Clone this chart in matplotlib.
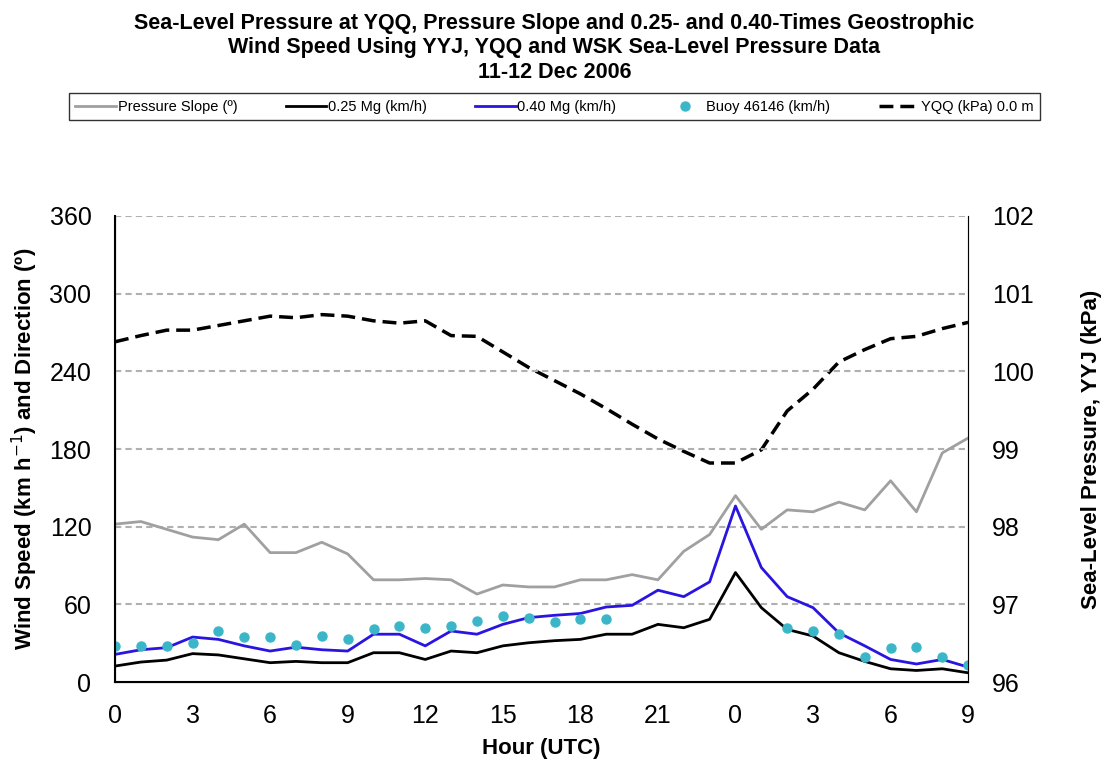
import matplotlib.pyplot as plt
import numpy as np

# Datos (hora UTC 0..23 del dia 11, 0..9 del dia 12)
horas = list(range(34))
etiquetas_x = ['0', '3', '6', '9', '12', '15', '18', '21', '0', '3', '6', '9']

pendiente = [122, 124, 118, 112, 110, 122, 100, 100, 108, 99, 79, 79, 80, 79, 68, 75, 73.5,
             73.5, 79, 79, 83, 79, 101, 114, 144, 118, 133, 131.5, 139, 133, 155.5, 131.5, 177, 188.5]
mg025 = [12.4, 15.5, 17, 22, 21, 18, 15, 16, 15, 15, 22.7, 22.7, 17.5, 24, 22.7, 28, 30.4,
         32, 33, 37, 37, 44.6, 42, 48.5, 84.6, 57.5, 40.7, 35.6, 22.7, 16, 10.3, 9, 10.3, 7.2]
mg040 = [21.4, 25, 26.6, 34.8, 33, 28, 24, 27, 25, 24, 37, 37, 28, 39.5, 37, 44.6, 49.8,
         51.6, 53, 58, 59.3, 71, 66, 77.4, 136, 88.5, 66, 57.5, 38, 28, 17.5, 14, 17.5, 11.6]
boya = [28, 28, 28, 30.4, 39.5, 34.8, 34.8, 29, 35.6, 33, 40.7, 43.3, 42, 43.3, 47.2, 51, 49.8,
        46.7, 48.5, 48.5, None, None, None, None, None, None, 42, 39.5, 37, 19.3, 26, 27, 19.3, 13]
presion_yqq = [100.38, 100.46, 100.53, 100.53, 100.59, 100.65, 100.71, 100.69, 100.73, 100.71,
               100.65, 100.62, 100.65, 100.46, 100.45, 100.25, 100.05, 99.88, 99.71, 99.52,
               99.32, 99.13, 98.97, 98.82, 98.82, 98.99, 99.49, 99.77, 100.12, 100.28,
               100.42, 100.45, 100.55, 100.63]

plt.rcParams['font.family'] = ['Liberation Sans', 'DejaVu Sans']

fig = plt.figure(figsize=(11.09, 7.63), dpi=100)
ax = fig.add_axes([0.1037, 0.106, 0.7693, 0.611])
ax2 = ax.twinx()

# la serie de presion va detras de las de viento
ax.set_zorder(ax2.get_zorder() + 1)
ax.patch.set_visible(False)

for v in range(60, 361, 60):
    ax.axhline(v, color='#b0b0b0', lw=1.5, ls=(0, (3, 2)), zorder=0)

l1, = ax.plot(horas, pendiente, color='#a0a0a0', lw=2, label='Pressure Slope (º)')
l2, = ax.plot(horas, mg025, color='black', lw=2, label='0.25 Mg (km/h)')
l3, = ax.plot(horas, mg040, color='#2a14e0', lw=2, label='0.40 Mg (km/h)')
bx = [h for h, b in zip(horas, boya) if b is not None]
by = [b for b in boya if b is not None]
l4, = ax.plot(bx, by, ls='none', marker='o', ms=6.5, color='#3bb6c9', label='Buoy 46146 (km/h)')
l5, = ax2.plot(horas, presion_yqq, color='black', lw=2.5, ls=(0, (4, 2)), label='YQQ (kPa) 0.0 m')

ax.set_xlim(0, 33)
ax.set_ylim(0, 360)
ax2.set_ylim(96, 102)
ax.set_yticks(range(0, 361, 60))
ax2.set_yticks(range(96, 103))
ax.set_xticks(range(0, 34, 3))
ax.set_xticklabels(etiquetas_x)

ax.tick_params(axis='y', length=0, labelsize=18, pad=17)
ax.tick_params(axis='x', length=0, labelsize=18, pad=16)
ax2.tick_params(axis='y', length=0, labelsize=18, pad=17)

ax.spines['top'].set_visible(False)
ax2.spines['top'].set_visible(False)
ax2.spines['right'].set_color('#808080')
ax.spines['left'].set_linewidth(1.5)
ax.spines['bottom'].set_linewidth(1.5)

ax.set_xlabel('Hour (UTC)', fontsize=16, fontweight='bold', labelpad=7)
ax.set_ylabel('Wind Speed (km h$^{-1}$) and Direction (º)', fontsize=16, fontweight='bold', labelpad=7)
ax2.set_ylabel('Sea-Level Pressure, YYJ (kPa)', fontsize=16, fontweight='bold', labelpad=34)

fig.text(0.5, 0.983, 'Sea-Level Pressure at YQQ, Pressure Slope and 0.25- and 0.40-Times Geostrophic\n'
         'Wind Speed Using YYJ, YQQ and WSK Sea-Level Pressure Data\n11-12 Dec 2006',
         ha='center', va='top', fontsize=15.5, fontweight='bold', linespacing=1.22)

leg = fig.legend(handles=[l1, l2, l3, l4, l5], loc='center', bbox_to_anchor=(0.5, 0.860),
                 ncol=5, fontsize=10.5, frameon=True, fancybox=False, edgecolor='black',
                 handlelength=2.8, columnspacing=3.3, handletextpad=0.1, borderpad=0.45,
                 borderaxespad=0)
leg.get_frame().set_linewidth(1)

plt.savefig('out.png', dpi=100)
